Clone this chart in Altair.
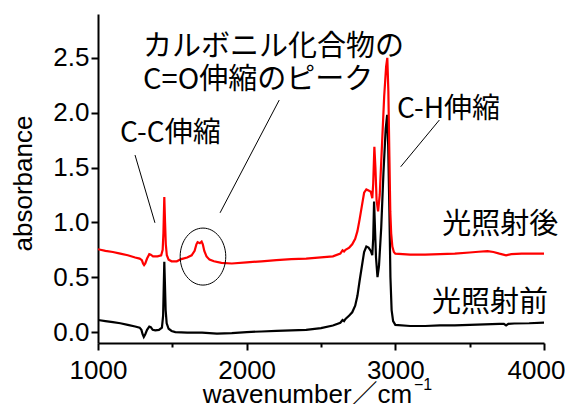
import altair as alt
import pandas as pd

# ---- spectrum before irradiation (black) ----
before_x = [1000, 1050, 1100, 1150, 1200, 1250, 1280, 1292, 1300, 1308, 1318, 1330, 1345, 1355,
            1368, 1385, 1410, 1430, 1438, 1442, 1446, 1450, 1455, 1462, 1475, 1495, 1520, 1600,
            1700, 1800, 1900, 2000, 2100, 2200, 2300, 2400, 2500, 2580, 2630, 2645, 2655, 2665,
            2690, 2710, 2730, 2745, 2760, 2775, 2790, 2805, 2820, 2835, 2845, 2851, 2857, 2863,
            2870, 2880, 2890, 2905, 2920, 2935, 2945, 2952, 2960, 2967, 2975, 2985, 3000, 3100,
            3200, 3300, 3400, 3500, 3600, 3700, 3730, 3745, 3760, 3800, 3900, 4000]
before_y = [0.11, 0.10, 0.09, 0.08, 0.065, 0.05, 0.04, 0.02, -0.02, -0.045, -0.02, 0.02, 0.05, 0.045,
            0.02, 0.015, 0.02, 0.04, 0.15, 0.40, 0.64, 0.45, 0.20, 0.08, 0.03, 0.01, 0.0, -0.005,
            -0.005, -0.015, -0.01, 0.0, 0.005, 0.01, 0.015, 0.02, 0.035, 0.06, 0.085, 0.11, 0.10, 0.12,
            0.15, 0.18, 0.24, 0.33, 0.47, 0.60, 0.73, 0.78, 0.77, 0.74, 0.70, 0.85, 1.19, 0.95,
            0.68, 0.50, 0.60, 0.95, 1.45, 1.85, 1.98, 1.70, 1.10, 0.50, 0.20, 0.10, 0.065, 0.055,
            0.055, 0.06, 0.06, 0.065, 0.07, 0.075, 0.075, 0.06, 0.075, 0.078, 0.08, 0.085]

# ---- spectrum after irradiation (red) ----
after_x = [1000, 1050, 1100, 1150, 1200, 1250, 1280, 1295, 1303, 1310, 1318, 1330, 1345, 1355,
           1370, 1400, 1425, 1435, 1440, 1446, 1451, 1456, 1463, 1475, 1495, 1530, 1560, 1600,
           1630, 1650, 1662, 1670, 1685, 1697, 1705, 1715, 1730, 1750, 1780, 1830, 1900, 2000,
           2100, 2200, 2300, 2400, 2500, 2580, 2630, 2645, 2655, 2665, 2690, 2710, 2730, 2745,
           2760, 2775, 2790, 2805, 2820, 2835, 2845, 2851, 2859, 2866, 2874, 2884, 2895, 2910,
           2925, 2938, 2946, 2953, 2960, 2966, 2972, 2980, 2990, 3000, 3100, 3200, 3300, 3400,
           3500, 3560, 3620, 3660, 3700, 3745, 3780, 3850, 3950, 4000]
after_y = [0.755, 0.74, 0.73, 0.715, 0.70, 0.68, 0.67, 0.655, 0.625, 0.61, 0.625, 0.67, 0.71, 0.705,
           0.69, 0.69, 0.70, 0.75, 0.90, 1.23, 1.00, 0.80, 0.70, 0.66, 0.645, 0.645, 0.665, 0.68,
           0.70, 0.74, 0.80, 0.82, 0.81, 0.825, 0.80, 0.74, 0.69, 0.66, 0.645, 0.63, 0.625, 0.635,
           0.645, 0.655, 0.665, 0.67, 0.68, 0.69, 0.715, 0.745, 0.735, 0.75, 0.77, 0.80, 0.85, 0.92,
           1.03, 1.15, 1.27, 1.30, 1.29, 1.28, 1.22, 1.35, 1.69, 1.50, 1.20, 1.10, 1.25, 1.70,
           2.15, 2.42, 2.50, 2.20, 1.60, 1.10, 0.90, 0.78, 0.73, 0.715, 0.705, 0.705, 0.71, 0.715,
           0.725, 0.732, 0.738, 0.73, 0.715, 0.70, 0.71, 0.715, 0.715, 0.715]

series_names = ["光照射前", "光照射後"]
series_colors = ["#000000", "#ff0000"]

x_ticks = [1000, 1500, 2000, 2500, 3000, 3500, 4000]
y_ticks = [0, 0.25, 0.5, 0.75, 1.0, 1.25, 1.5, 1.75, 2.0, 2.25, 2.5, 2.75]

# annotations (data coordinates)
ann_text = ["カルボニル化合物の\nC=O伸縮のピーク", "C-C伸縮", "C-H伸縮", "光照射後", "光照射前"]
ann_x = [1303, 1148, 3011, 3315, 3246]
ann_y = [2.52, 1.735, 1.948, 0.893, 0.182]
ann_size = [29, 28, 28, 29, 29]

lead_x = [1249, 2219, 3296]
lead_y = [1.614, 2.115, 1.933]
lead_x2 = [1383, 1821, 3036]
lead_y2 = [0.996, 1.087, 1.507]

ellipse_x = [1706]
ellipse_y = [0.688]

df = pd.concat([
    pd.DataFrame({"wn": before_x, "abs": before_y, "series": series_names[0]}),
    pd.DataFrame({"wn": after_x, "abs": after_y, "series": series_names[1]}),
])
ann_df = pd.DataFrame({"x": ann_x, "y": ann_y, "t": ann_text, "s": ann_size})
lead_df = pd.DataFrame({"x": lead_x, "y": lead_y, "x2": lead_x2, "y2": lead_y2})
ell_df = pd.DataFrame({"x": ellipse_x, "y": ellipse_y})

LATIN = "Liberation Sans, Noto Sans CJK JP"
CJK = "Noto Sans CJK JP"

x_scale = alt.Scale(domain=[1000, 4000], nice=False, zero=False)
y_scale = alt.Scale(domain=[-0.1, 2.9], nice=False, zero=False)

x_axis = alt.Axis(
    values=x_ticks,
    labelExpr="datum.value % 1000 == 0 ? '' + datum.value : ''",
    tickSize={"condition": {"test": "datum.value % 1000 == 0", "value": 7}, "value": 4},
    labelOffset={"condition": {"test": "datum.value == 4000", "value": -8}, "value": 0},
    tickWidth=2, tickColor="black", domainWidth=2, domainColor="black",
    labelFont=LATIN, labelFontSize=26, labelColor="black", labelPadding=7,
    labelOverlap=False, labelFlush=False, grid=False,
    title="wavenumber／cm", titleFont=LATIN, titleFontSize=26, titleFontWeight="normal",
    titleColor="black", titleX=209, titleY=59, titleAlign="center", titleBaseline="alphabetic",
)
y_axis = alt.Axis(
    values=y_ticks,
    labelExpr="datum.value % 0.5 == 0 ? format(datum.value, '.1f') : ''",
    tickSize={"condition": {"test": "datum.value % 0.5 == 0", "value": 7}, "value": 4},
    tickWidth=2, tickColor="black", domainWidth=2, domainColor="black",
    labelFont=LATIN, labelFontSize=26, labelColor="black", labelPadding=2,
    labelOverlap=False, labelFlush=False, grid=False,
    title="absorbance", titleFont=LATIN, titleFontSize=26, titleFontWeight="normal",
    titleColor="black", titleX=-75, titleY=169, titleAlign="center", titleBaseline="middle",
)

lines = alt.Chart(df).mark_line(strokeWidth=2.2, clip=True).encode(
    x=alt.X("wn:Q", scale=x_scale, axis=x_axis),
    y=alt.Y("abs:Q", scale=y_scale, axis=y_axis),
    color=alt.Color("series:N", scale=alt.Scale(domain=series_names, range=series_colors), legend=None),
    order=alt.Order("wn:Q"),
)

texts = alt.Chart(ann_df).mark_text(
    font=CJK, align="left", baseline="alphabetic", color="black",
    lineBreak="\n", lineHeight=33,
).encode(x="x:Q", y="y:Q", text="t:N", size=alt.Size("s:Q", scale=None))

leads = alt.Chart(lead_df).mark_rule(color="black", strokeWidth=1).encode(
    x="x:Q", y="y:Q", x2="x2:Q", y2="y2:Q"
)

ellipse = alt.Chart(ell_df).mark_point(
    shape="M -0.8 0 A 0.8 1 0 1 1 0.8 0 A 0.8 1 0 1 1 -0.8 0 Z",
    size=3249, filled=False, color="black", strokeWidth=1, opacity=1,
).encode(x="x:Q", y="y:Q")

sup = alt.Chart(pd.DataFrame({"t": ["−1"]})).mark_text(
    font=LATIN, fontSize=16, align="left", baseline="alphabetic", color="black"
).encode(x=alt.value(316), y=alt.value(376), text="t:N")

chart = alt.layer(lines, leads, ellipse, texts, sup).properties(
    width=446, height=329,
    padding={"left": 90, "top": 6, "right": 21, "bottom": 61},
    autosize="none", background="white",
).configure_view(stroke=None)

chart.save("out.html", embed_options={"renderer": "svg", "actions": False})
